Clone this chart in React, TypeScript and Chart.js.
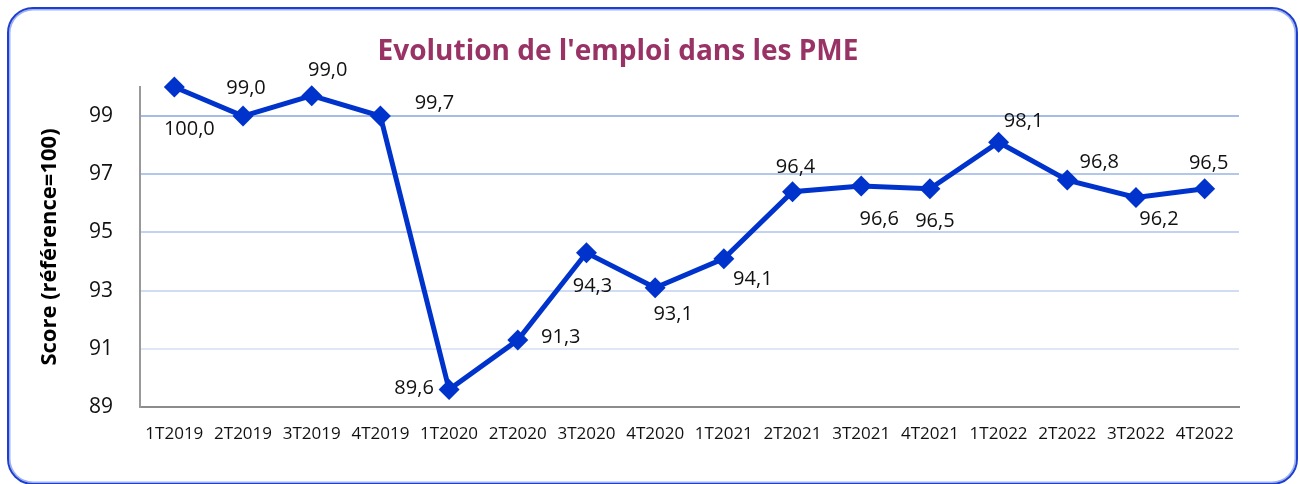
import React, { useEffect, useRef } from "react";
import { Chart, registerables } from "chart.js";

Chart.register(...registerables);

const categories = [
  "1T2019", "2T2019", "3T2019", "4T2019",
  "1T2020", "2T2020", "3T2020", "4T2020",
  "1T2021", "2T2021", "3T2021", "4T2021",
  "1T2022", "2T2022", "3T2022", "4T2022",
];

const scores = [100.0, 99.0, 99.7, 99.0, 89.6, 91.3, 94.3, 93.1, 94.1, 96.4, 96.6, 96.5, 98.1, 96.8, 96.2, 96.5];

// Data label texts exactly as printed on the reference chart
const pointLabels = [
  "100,0", "99,0", "99,0", "99,7", "89,6", "91,3", "94,3", "93,1",
  "94,1", "96,4", "96,6", "96,5", "98,1", "96,8", "96,2", "96,5",
];

const yTickValues = [89, 91, 93, 95, 97, 99];

const chartTitle = "Evolution de l'emploi dans les PME";
const yAxisTitle = "Score (référence=100)";

// label placement offsets (px) relative to each point
const labelOffsets: [number, number][] = [
  [15, 42], [3, -28], [16, -25], [54, -13], [-35, -1], [43, -3], [6, 33], [18, 27],
  [29, 21], [3, -24], [18, 33], [5, 32], [25, -21], [32, -18], [23, 22], [4, -26],
];

const gridColors: Record<number, string> = {
  89: "rgba(0,0,0,0)",
  91: "#dfe7f6",
  93: "#d0dcf3",
  95: "#c2d2f0",
  97: "#b3c7ec",
  99: "#a4bce6",
};

const FONT = "'Open Sans', 'Noto Sans', sans-serif";

export default function App() {
  const ref = useRef<HTMLCanvasElement | null>(null);

  useEffect(() => {
    if (!ref.current) return;
    const labelPlugin = {
      id: "pointLabels",
      afterDatasetsDraw(chart: any) {
        const ctx = chart.ctx;
        const meta = chart.getDatasetMeta(0);
        ctx.save();
        ctx.font = `20px ${FONT}`;
        ctx.fillStyle = "#111";
        ctx.textAlign = "center";
        ctx.textBaseline = "middle";
        meta.data.forEach((pt: any, i: number) => {
          const [dx, dy] = labelOffsets[i];
          ctx.fillText(pointLabels[i], pt.x + dx, pt.y + dy);
        });
        ctx.restore();
      },
    };
    const titlePlugin = {
      id: "customTitle",
      afterDraw(chart: any) {
        const ctx = chart.ctx;
        ctx.save();
        ctx.font = `bold 28px ${FONT}`;
        ctx.fillStyle = "#993366";
        ctx.textAlign = "center";
        ctx.textBaseline = "alphabetic";
        ctx.fillText(chartTitle, 618, 60);
        ctx.restore();
      },
    };

    const chart = new Chart(ref.current, {
      type: "line",
      data: {
        labels: categories,
        datasets: [
          {
            data: scores,
            borderColor: "#0033cc",
            backgroundColor: "#0033cc",
            borderWidth: 5,
            pointStyle: "rectRot",
            pointRadius: 10.5,
            pointHoverRadius: 10.5,
            pointBorderWidth: 0,
            tension: 0,
            clip: false,
          },
        ],
      },
      options: {
        animation: false,
        responsive: false,
        maintainAspectRatio: false,
        layout: { padding: { top: 87, right: 61, bottom: 0, left: 0 } },
        plugins: {
          legend: { display: false },
          title: { display: false },
          tooltip: { enabled: false },
        },
        scales: {
          x: {
            offset: true,
            grid: { display: false, drawTicks: false },
            border: { display: true, color: "#8c8c8c", width: 2 },
            ticks: {
              color: "#111",
              font: { family: FONT, size: 17 },
              padding: 17,
              maxRotation: 0,
              autoSkip: false,
            },
            afterFit: (scale: any) => {
              scale.height = 77;
            },
          },
          y: {
            min: 89,
            max: 100,
            afterBuildTicks: (scale: any) => {
              scale.ticks = yTickValues.map((v) => ({ value: v }));
            },
            afterFit: (scale: any) => {
              scale.width = 140;
            },
            grid: {
              drawTicks: false,
              lineWidth: 2,
              color: (c: any) => gridColors[c.tick?.value] ?? "rgba(0,0,0,0)",
            },
            border: { display: true, color: "#999999", width: 2 },
            ticks: {
              color: "#111",
              font: { family: FONT, size: 21 },
              padding: 27,
            },
            title: {
              display: true,
              text: yAxisTitle,
              color: "#000",
              font: { family: FONT, size: 22, weight: "bold", lineHeight: 1.2 },
              padding: { top: 37, bottom: 0 },
            },
          },
        },
      },
      plugins: [labelPlugin, titlePlugin],
    });
    return () => chart.destroy();
  }, []);

  return (
    <div style={{ position: "absolute", left: 0, top: 0, width: 1300, height: 484, background: "#fff", overflow: "hidden" }}>
      <div
        style={{
          position: "absolute",
          left: 7,
          top: 7,
          width: 1291,
          height: 478,
          boxSizing: "border-box",
          border: "2px solid #1d3fd0",
          borderRadius: 26,
          boxShadow: "inset 0 0 0 1.5px #9fb2ee",
        }}
      />
      <canvas ref={ref} width={1300} height={484} style={{ position: "absolute", left: 0, top: 0, width: 1300, height: 484 }} />
    </div>
  );
}
